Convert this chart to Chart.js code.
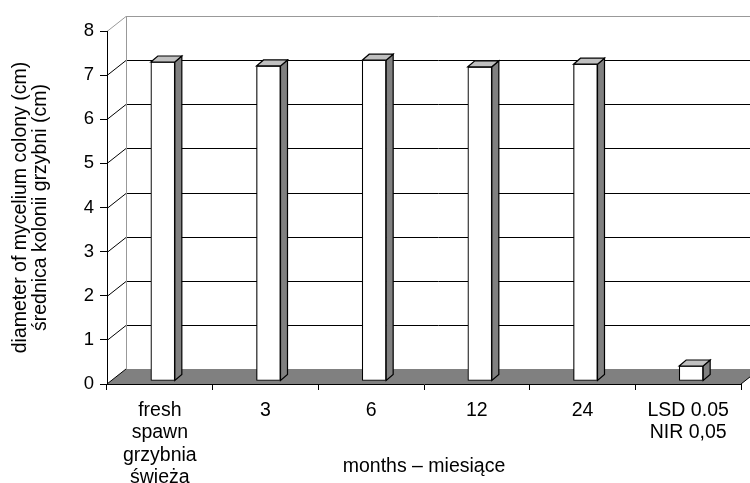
<!DOCTYPE html>
<html>
<head>
<meta charset="utf-8">
<script src="https://cdn.jsdelivr.net/npm/chart.js@4.4.0/dist/chart.umd.min.js"></script>
<style>
  body { margin: 0; background: #fff; }
  #wrap { width: 750px; height: 483px; }
</style>
</head>
<body>
<div id="wrap"><canvas id="chart"></canvas></div>
<script>
// data
const categories = [['fresh', 'spawn', 'grzybnia', 'świeża'], '3', '6', '12', '24', ['LSD 0.05', 'NIR 0,05']];
const diameters = [7.23, 7.14, 7.27, 7.12, 7.18, 0.34];
const yTicks = [0, 1, 2, 3, 4, 5, 6, 7, 8];
const yTitle = ['diameter of mycelium colony (cm)', 'średnica kolonii grzybni (cm)'];
const xTitle = 'months – miesiące';

const FONT = 'Liberation Sans, Arial, sans-serif';
// depth of the 3d box
const WALL_DX = 19, WALL_DY = -15;
const BAR_DX = 7, BAR_DY = -6;
const BAR_SHIFT = 3;

const box3d = {
  id: 'box3d',
  beforeDraw(chart) {
    const ctx = chart.ctx;
    const {left, right, bottom} = chart.chartArea;
    const y = chart.scales.y;
    ctx.save();
    // floor
    ctx.beginPath();
    ctx.moveTo(left, bottom);
    ctx.lineTo(left + WALL_DX, bottom + WALL_DY);
    ctx.lineTo(right + WALL_DX, bottom + WALL_DY);
    ctx.lineTo(right, bottom);
    ctx.closePath();
    ctx.fillStyle = '#808080';
    ctx.fill();
    ctx.strokeStyle = '#000';
    ctx.lineWidth = 1;
    ctx.beginPath();
    ctx.moveTo(left, bottom);
    ctx.lineTo(left + WALL_DX, bottom + WALL_DY);
    ctx.moveTo(right, bottom);
    ctx.lineTo(right + WALL_DX, bottom + WALL_DY);
    ctx.stroke();
    // back wall gridlines
    yTicks.forEach(v => {
      if (v === 0) return;
      const py = Math.round(y.getPixelForValue(v)) + 0.5;
      ctx.strokeStyle = v === yTicks[yTicks.length - 1] ? '#999' : '#000';
      ctx.beginPath();
      ctx.moveTo(left, py);
      ctx.lineTo(left + WALL_DX, py + WALL_DY);
      ctx.lineTo(right + WALL_DX, py + WALL_DY);
      ctx.stroke();
    });
    // left edge of wall
    ctx.strokeStyle = '#999';
    ctx.beginPath();
    ctx.moveTo(left + WALL_DX + 0.5, y.getPixelForValue(8) + WALL_DY);
    ctx.lineTo(left + WALL_DX + 0.5, bottom + WALL_DY);
    ctx.stroke();
    ctx.restore();
  },
  beforeDatasetsDraw(chart) {
    chart.ctx.save();
    chart.ctx.translate(BAR_SHIFT, -BAR_SHIFT);
  },
  afterDatasetsDraw(chart) {
    const ctx = chart.ctx;
    chart.getDatasetMeta(0).data.forEach(bar => {
      const {x, y, base, width} = bar.getProps(['x', 'y', 'base', 'width'], true);
      const l = x - width / 2, r = x + width / 2;
      ctx.lineWidth = 1.2;
      ctx.strokeStyle = '#000';
      // side
      ctx.beginPath();
      ctx.moveTo(r, y);
      ctx.lineTo(r + BAR_DX, y + BAR_DY);
      ctx.lineTo(r + BAR_DX, base + BAR_DY);
      ctx.lineTo(r, base);
      ctx.closePath();
      ctx.fillStyle = '#808080';
      ctx.fill();
      ctx.stroke();
      // top
      ctx.beginPath();
      ctx.moveTo(l, y);
      ctx.lineTo(l + BAR_DX, y + BAR_DY);
      ctx.lineTo(r + BAR_DX, y + BAR_DY);
      ctx.lineTo(r, y);
      ctx.closePath();
      ctx.fillStyle = '#c0c0c0';
      ctx.fill();
      ctx.stroke();
    });
    ctx.restore();
  }
};

new Chart(document.getElementById('chart'), {
  type: 'bar',
  data: {
    labels: categories,
    datasets: [{
      data: diameters,
      backgroundColor: '#fff',
      borderColor: '#000',
      borderWidth: 1.2,
      borderSkipped: false,
      barThickness: 24
    }]
  },
  options: {
    responsive: true,
    maintainAspectRatio: false,
    animation: false,
    layout: { padding: { left: 0, top: 31, right: 9, bottom: 0 } },
    plugins: { legend: { display: false }, tooltip: { enabled: false } },
    scales: {
      x: {
        afterFit: s => { s.height = 99; },
        grid: { offset: true, drawOnChartArea: false, tickLength: 6, color: '#000' },
        border: { color: '#000' },
        ticks: {
          autoSkip: false, maxRotation: 0, padding: 9, color: '#000',
          font: { family: FONT, size: 19.5, lineHeight: '22.5px' }
        },
        title: {
          display: true, text: xTitle, color: '#000',
          font: { family: FONT, size: 19.5, lineHeight: '20px' },
          padding: { top: 0, bottom: 6 }
        }
      },
      y: {
        min: 0, max: 8,
        afterFit: s => { s.width = 107; },
        afterBuildTicks: s => { s.ticks = yTicks.map(v => ({ value: v })); },
        grid: { drawOnChartArea: false, tickLength: 7, color: '#000' },
        border: { color: '#000' },
        ticks: { padding: 6, color: '#000', font: { family: FONT, size: 18.5 } },
        title: {
          display: true, text: yTitle, color: '#000',
          font: { family: FONT, size: 19.5, lineHeight: '19.5px' },
          padding: { top: 11, bottom: 0 }
        }
      }
    }
  },
  plugins: [box3d]
});
</script>
</body>
</html>
